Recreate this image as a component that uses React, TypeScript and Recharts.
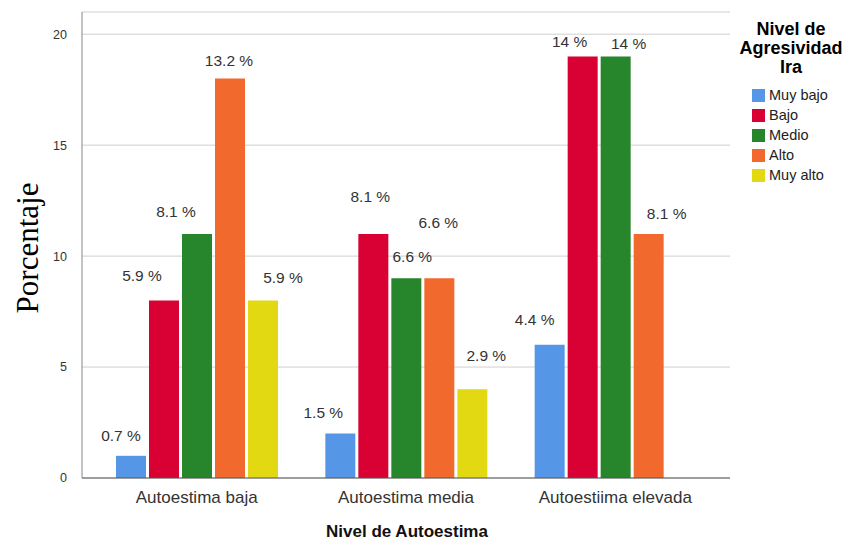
import React from "react";
import {
  BarChart,
  Bar,
  XAxis,
  YAxis,
  CartesianGrid,
  LabelList,
} from "recharts";

const categories = ["Autoestima baja", "Autoestima media", "Autoestiima elevada"];

const muyBajo = [1, 2, 6];
const bajo = [8, 11, 19];
const medio = [11, 9, 19];
const alto = [18, 9, 11];
const muyAlto: (number | null)[] = [8, 4, null];

const muyBajoPct = ["0.7 %", "1.5 %", "4.4 %"];
const bajoPct = ["5.9 %", "8.1 %", "14 %"];
const medioPct = ["8.1 %", "6.6 %", "14 %"];
const altoPct = ["13.2 %", "6.6 %", "8.1 %"];
const muyAltoPct: (string | null)[] = ["5.9 %", "2.9 %", null];

const yTicks = [0, 5, 10, 15, 20];

// label nudges (dx, dy from bar top centre), SPSS moves them around to avoid overlaps
const nudge: Record<string, [number, number][]> = {
  muyBajo: [[-10, -20], [-17, -21], [-15, -25]],
  bajo: [[-22, -25], [-3, -37], [-13, -15]],
  medio: [[-21, -22], [6, -22], [13, -13]],
  alto: [[-1, -18], [-1, -56], [18, -20]],
  muyAlto: [[20, -23], [14, -34], [0, -20]],
};

const series = [
  { key: "muyBajo", name: "Muy bajo", color: "#5596E6" },
  { key: "bajo", name: "Bajo", color: "#D90033" },
  { key: "medio", name: "Medio", color: "#27852B" },
  { key: "alto", name: "Alto", color: "#F2692E" },
  { key: "muyAlto", name: "Muy alto", color: "#E2D912" },
];

const data = categories.map((name, i) => ({
  name,
  muyBajo: muyBajo[i],
  bajo: bajo[i],
  medio: medio[i],
  alto: alto[i],
  muyAlto: muyAlto[i],
  muyBajoPct: muyBajoPct[i],
  bajoPct: bajoPct[i],
  medioPct: medioPct[i],
  altoPct: altoPct[i],
  muyAltoPct: muyAltoPct[i],
}));

const font = "'Liberation Sans', Arial, sans-serif";

function LegendBox() {
  return (
    <div
      style={{
        position: "absolute",
        left: 738,
        top: 20,
        width: 106,
        fontFamily: font,
        color: "#000",
      }}
    >
      <div
        style={{
          fontWeight: "bold",
          fontSize: 18,
          lineHeight: "19px",
          textAlign: "center",
          marginBottom: 8,
        }}
      >
        Nivel de
        <br />
        Agresividad
        <br />
        Ira
      </div>
      {series.map((s) => (
        <div
          key={s.key}
          style={{ display: "flex", alignItems: "center", height: 20, fontSize: 14.5, marginLeft: 14 }}
        >
          <span
            style={{
              display: "inline-block",
              width: 13,
              height: 13,
              background: s.color,
              marginRight: 4,
            }}
          />
          <span style={{ color: "#222" }}>{s.name}</span>
        </div>
      ))}
    </div>
  );
}

const makeLabel = (key: string) => (props: any) => {
  const { x, y, width, value, index } = props;
  if (value == null || value === "") return null;
  const [dx, dy] = nudge[key][index] || [0, -20];
  return (
    <text
      x={Number(x) + Number(width) / 2 + dx}
      y={Number(y) + dy}
      textAnchor="middle"
      dominantBaseline="central"
      fontFamily={font}
      fontSize={15.5}
      fill="#333"
    >
      {value}
    </text>
  );
};

export default function App() {
  return (
    <div style={{ position: "absolute", left: 0, top: 0, width: 844, height: 541, background: "#fff" }}>
      <BarChart
        width={844}
        height={541}
        data={data}
        margin={{ top: 12, right: 114, bottom: 0, left: 0 }}
        barSize={30}
        barGap={3}
      >
        <CartesianGrid vertical={false} stroke="#cfcfcf" />
        <XAxis
          dataKey="name"
          height={63}
          padding={{ left: 10, right: 10 }}
          tickLine={false}
          tickMargin={7}
          axisLine={{ stroke: "#555" }}
          tick={{ fontSize: 17, fill: "#333", fontFamily: font }}
          label={{
            content: () => (
              <text
                x={407}
                y={531}
                textAnchor="middle"
                dominantBaseline="central"
                fontFamily={font}
                fontWeight="bold"
                fontSize={17}
                fill="#111"
              >
                Nivel de Autoestima
              </text>
            ),
          }}
        />
        <YAxis
          width={82}
          domain={[0, 21]}
          ticks={yTicks}
          tickLine={false}
          tickMargin={9}
          axisLine={{ stroke: "#888" }}
          tick={{ fontSize: 12.5, fill: "#333", fontFamily: font }}
          label={{
            content: () => (
              <text
                x={27}
                y={248}
                transform="rotate(-90 27 248)"
                textAnchor="middle"
                dominantBaseline="central"
                fontFamily="'Liberation Serif', 'Times New Roman', serif"
                fontSize={31}
                fill="#000"
              >
                Porcentaje
              </text>
            ),
          }}
        />
        {series.map((s) => (
          <Bar key={s.key} dataKey={s.key} name={s.name} fill={s.color} isAnimationActive={false}>
            <LabelList dataKey={`${s.key}Pct`} content={makeLabel(s.key)} />
          </Bar>
        ))}
      </BarChart>
      <LegendBox />
    </div>
  );
}
